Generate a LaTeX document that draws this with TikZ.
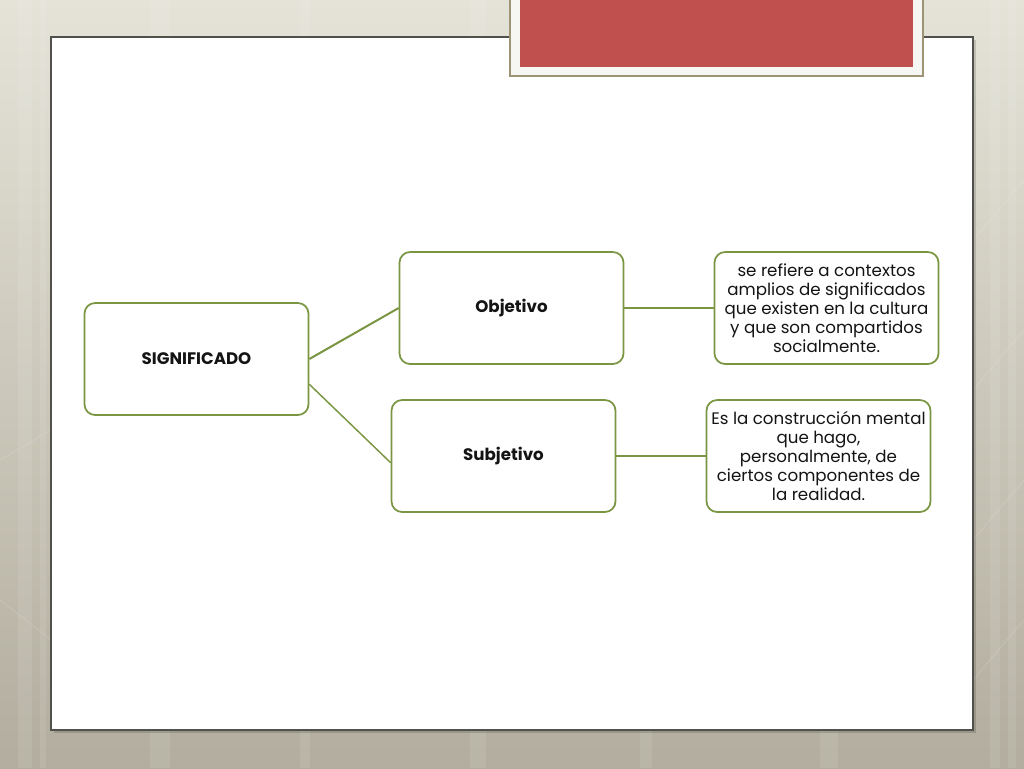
\documentclass[tikz,border=0pt]{standalone}
\usepackage{fontspec}
\setmainfont{Poppins}
\definecolor{paper}{RGB}{229, 227, 216}
\definecolor{paperdark}{RGB}{178, 173, 158}
\definecolor{frame}{RGB}{80, 80, 76}
\definecolor{olive}{RGB}{122, 150, 66}
\definecolor{brick}{RGB}{192, 80, 77}
\definecolor{khaki}{RGB}{156, 148, 117}
\definecolor{chalk}{RGB}{246, 246, 242}
\definecolor{ink}{RGB}{20, 20, 20}
\tikzset{conceptbox/.style={draw=olive,line width=1.3pt,rounded corners=8pt,fill=white,minimum width=168pt,minimum height=84pt,align=center,text=ink,font=\fontsize{12.5}{14}\selectfont\bfseries}}
\tikzset{notebox/.style={draw=olive,line width=1.3pt,rounded corners=8pt,fill=white,minimum width=168pt,minimum height=84pt,align=center,text=ink,font=\fontsize{12.5}{14.25}\selectfont}}
\tikzset{branch/.style={olive,line width=1.1pt}}

\begin{document}
\begin{tikzpicture}[x=0.75pt,y=-0.75pt]
	\useasboundingbox (0,0) rectangle (1024,768);
	% background
	\shade[top color=paper,bottom color=paperdark] (0,0) rectangle (1024,768);
	\foreach \xs/\w in {18/14,40/6,150/20,300/10,470/16,640/12,820/18,990/10,1008/8}
		\fill[white,opacity=0.09] (\xs,0) rectangle (\xs+\w,768);
	\foreach \ya in {180,330,480,620}
		\draw[white,opacity=0.15,line width=0.6pt] (973,\ya+60) -- (1024,\ya);
	\draw[white,opacity=0.15,line width=0.6pt] (0,460) -- (51,430);
	\draw[white,opacity=0.15,line width=0.6pt] (0,600) -- (51,640);
	% slide
	\fill[black,opacity=0.15] (54,40) rectangle (976,733);
	\draw[frame,fill=white,line width=0.9pt] (51,37) rectangle (973,730);
	% title bar
	\draw[khaki,fill=chalk,line width=1.2pt] (510,-2) rectangle (923,76);
	\fill[brick] (520,-2) rectangle (913,67);
	% concept map
	\node[conceptbox] (sig) at (196.5,359) {SIGNIFICADO};
	\node[conceptbox] (obj) at (511.5,308) {Objetivo};
	\node[conceptbox] (subj) at (503.5,456) {Subjetivo};
	\node[notebox] (objnote) at (826.5,308) {se refiere a contextos\\amplios de significados\\que existen en la cultura\\y que son compartidos\\socialmente.};
	\node[notebox] (subjnote) at (818.5,456) {Es la construcción mental\\que hago,\\personalmente, de\\ciertos componentes de\\la realidad.};
	\draw[branch,line width=1.5pt] (sig.east) -- (obj.west);
	\draw[branch] ([yshift=-19pt]sig.east) -- ([yshift=-5pt]subj.west);
	\draw[branch] (obj.east) -- (objnote.west);
	\draw[branch] (subj.east) -- (subjnote.west);
\end{tikzpicture}
\end{document}
